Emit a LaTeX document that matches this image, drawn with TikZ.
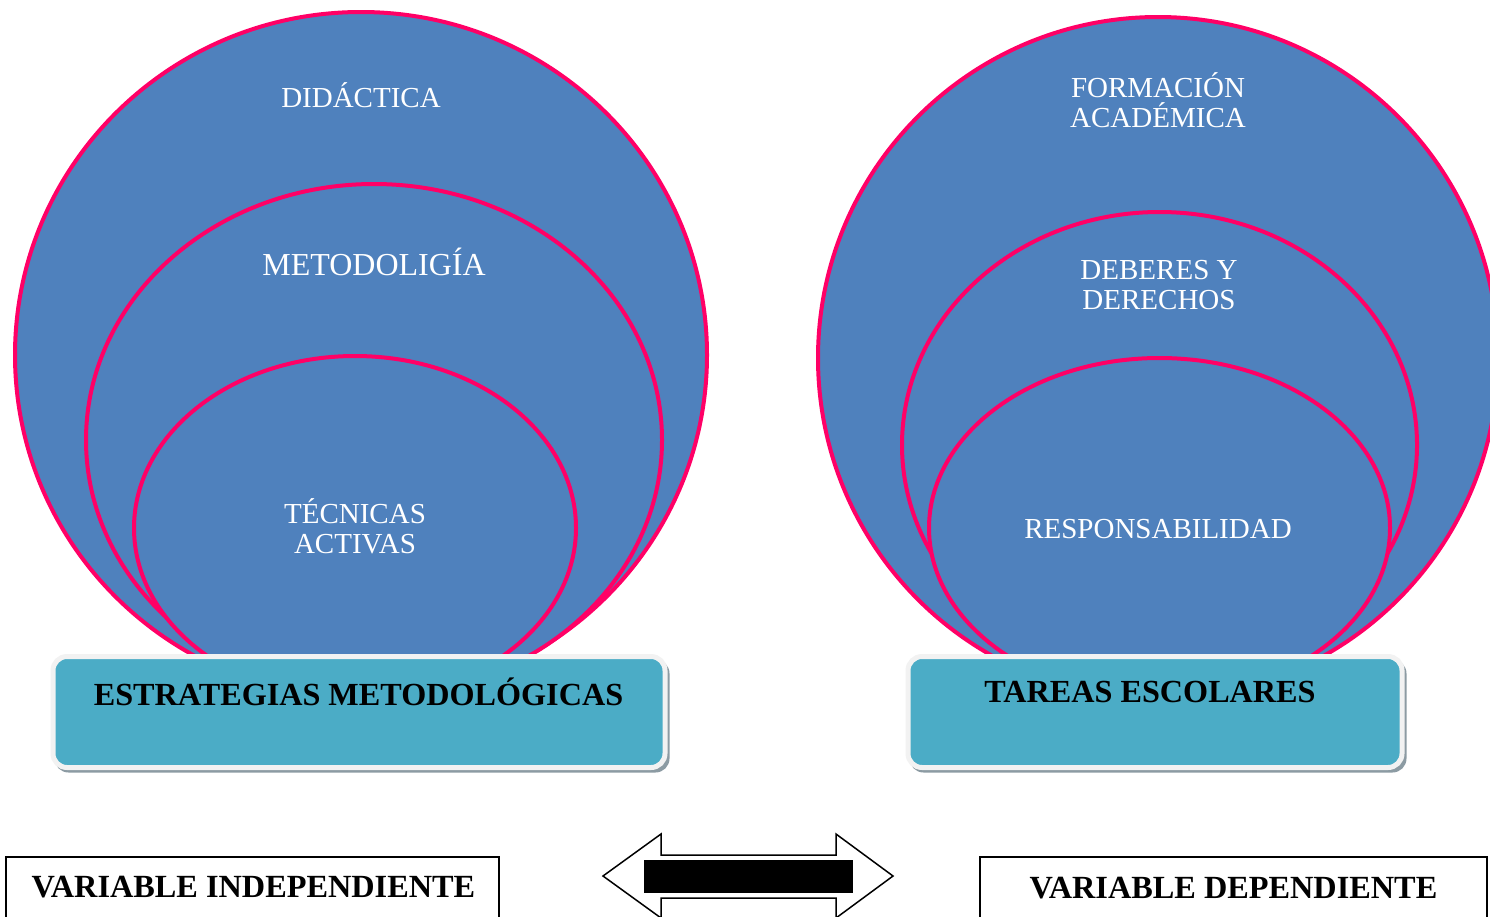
\documentclass[tikz,border=0pt]{standalone}
\usepackage{fontspec}
\setmainfont{Liberation Serif}
\usetikzlibrary{shapes.geometric}
\definecolor{ellblue}{HTML}{4F81BD}
\definecolor{ellpink}{HTML}{FF0066}
\definecolor{boxteal}{HTML}{4BACC6}
\definecolor{boxrim}{HTML}{F2F2F2}
\definecolor{shadowgray}{HTML}{8C9BA3}
\tikzset{
  ring/.style={ellipse, draw=ellpink, fill=ellblue, line width=4pt, inner sep=0pt},
  ringtext/.style={text=white, font=\fontsize{29}{30}\selectfont, align=center, inner sep=0pt},
  tealbox/.style={rounded corners=14pt, fill=boxteal, draw=boxrim, line width=5pt, inner sep=0pt},
  boxshadow/.style={rounded corners=14pt, fill=shadowgray, inner sep=0pt},
  boxtext/.style={font=\bfseries\fontsize{32.2}{33}\selectfont, text=black, inner sep=0pt},
  varbox/.style={draw=black, line width=1.5pt, fill=white, inner sep=0pt},
  vartext/.style={font=\bfseries\fontsize{32.3}{33}\selectfont, text=black, inner sep=0pt},
}
\begin{document}
\begin{tikzpicture}[x=1pt,y=-1pt]
\useasboundingbox (0,0) rectangle (1490,916);
\clip (0,0) rectangle (1490,916);
% left rings
\node[ring, minimum width=692pt, minimum height=686pt] (L1) at (361,355) {};
\node[ring, minimum width=576pt, minimum height=512pt] (L2) at (374,440) {};
\node[ring, minimum width=442pt, minimum height=344pt] (L3) at (355,528) {};
% right rings
\node[ring, minimum width=680pt, minimum height=682pt] (R1) at (1158,358) {};
\node[ring, minimum width=515pt, minimum height=466pt] (R2) at (1159.5,445) {};
\node[ring, minimum width=461pt, minimum height=340pt] (R3) at (1159.5,528) {};
% ring labels
\node[ringtext] (tL1) at (361,95) {DIDÁCTICA};
\node[ringtext, font=\fontsize{32}{33}\selectfont] (tL2) at (374,262) {METODOLIGÍA};
\node[ringtext] (tL3) at (355,526) {TÉCNICAS\\ACTIVAS};
\node[ringtext] (tR1) at (1158,100) {FORMACIÓN\\ACADÉMICA};
\node[ringtext] (tR2) at (1159,285) {DEBERES Y\\DERECHOS};
\node[ringtext] (tR3) at (1158,529) {RESPONSABILIDAD};
% teal boxes
\node[boxshadow, minimum width=615pt, minimum height=113pt] (sL) at (362,716) {};
\node[tealbox, minimum width=612pt, minimum height=111pt] (bL) at (359,712) {};
\node[boxtext] (tbL) at (358.5,692) {ESTRATEGIAS METODOLÓGICAS};
\node[boxshadow, minimum width=497pt, minimum height=113pt] (sR) at (1158,716) {};
\node[tealbox, minimum width=494pt, minimum height=111pt] (bR) at (1155,712) {};
\node[boxtext] (tbR) at (1150,692) {TAREAS ESCOLARES};
% variable boxes
\node[varbox, minimum width=493pt, minimum height=100pt] (vL) at (252.5,907) {};
\node[vartext] (tvL) at (253.5,887) {VARIABLE INDEPENDIENTE};
\node[varbox, minimum width=507pt, minimum height=100pt] (vR) at (1233.5,907) {};
\node[vartext] (tvR) at (1233.5,888) {VARIABLE DEPENDIENTE};
% double arrow
\coordinate (aL) at (603,876);
\coordinate (aR) at (893,876);
\draw[line width=1.5pt, fill=white, line join=miter]
  (aL) -- (661,834) -- (661,855) -- (836,855) -- (836,834) -- (aR)
  -- (836,918) -- (836,898) -- (661,898) -- (661,918) -- cycle;
\node[fill=black, minimum width=209pt, minimum height=33pt, inner sep=0pt] (bar) at (748.5,876.5) {};
\end{tikzpicture}
\end{document}
